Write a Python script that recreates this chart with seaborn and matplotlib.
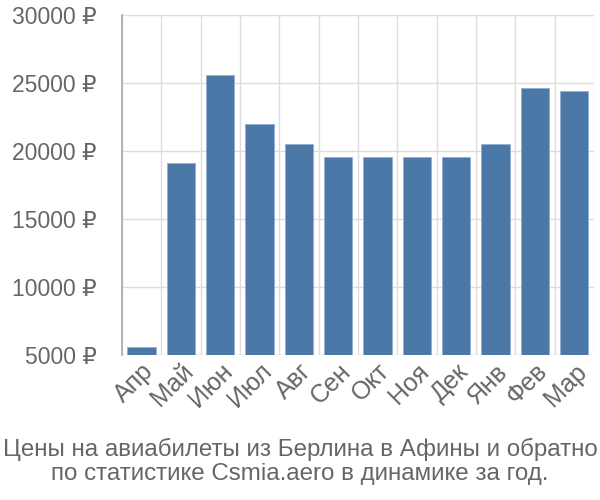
import matplotlib
matplotlib.use("Agg")
import matplotlib.pyplot as plt
import seaborn as sns
import pandas as pd
import numpy as np

months = ["Апр", "Май", "Июн", "Июл", "Авг", "Сен", "Окт", "Ноя", "Дек", "Янв", "Фев", "Мар"]
prices = [5600, 19100, 25600, 22000, 20500, 19560, 19560, 19560, 19560, 20500, 24600, 24400]
yticks = [5000, 10000, 15000, 20000, 25000, 30000]
title = "Цены на авиабилеты из Берлина в Афины и обратно\nпо статистике Csmia.aero в динамике за год."

sns.set_style("white")
plt.rcParams['font.family'] = ['Liberation Sans', 'DejaVu Sans']

df = pd.DataFrame({"month": months, "price": prices})

fig = plt.figure(figsize=(6, 5), dpi=100)
ax = fig.add_axes([0.203, 0.29, 0.787, 0.68])

sns.barplot(data=df, x="month", y="price", color="#4C78A8", width=0.72,
            edgecolor="#8fb0d4", linewidth=0.6, saturation=1, ax=ax, zorder=3)

ax.set_ylim(5000, 30000)
ax.set_xlim(-0.5, len(months) - 0.5)
ax.set_yticks(yticks)
ax.set_yticklabels([f"{v} ₽" for v in yticks])
ax.set_xlabel("")
ax.set_ylabel("")

gray = "#666666"
grid = "#dddddd"
ax.set_xticks(np.arange(-0.5, len(months)), minor=True)
ax.grid(True, which="minor", axis="x", color=grid, linewidth=1, zorder=0)
ax.grid(True, which="major", axis="y", color=grid, linewidth=1, zorder=0)
ax.tick_params(axis="y", length=16, color=grid, labelsize=16.5, labelcolor=gray, pad=2, width=1)
ax.tick_params(axis="x", which="major", length=0, labelsize=18, labelcolor=gray, pad=3)
ax.tick_params(axis="x", which="minor", length=13, color=grid, width=1)
for lbl in ax.get_xticklabels():
    lbl.set_rotation(45)
    lbl.set_ha("right")
    lbl.set_rotation_mode("anchor")

for s in ["top", "right", "bottom"]:
    ax.spines[s].set_visible(False)
ax.spines["left"].set_color("#aaaaaa")
ax.spines["left"].set_linewidth(1.2)

fig.text(0.5, 0.03, title, ha="center", va="bottom", fontsize=17.4, color=gray, linespacing=1.12)

fig.savefig("out.png", dpi=100)
